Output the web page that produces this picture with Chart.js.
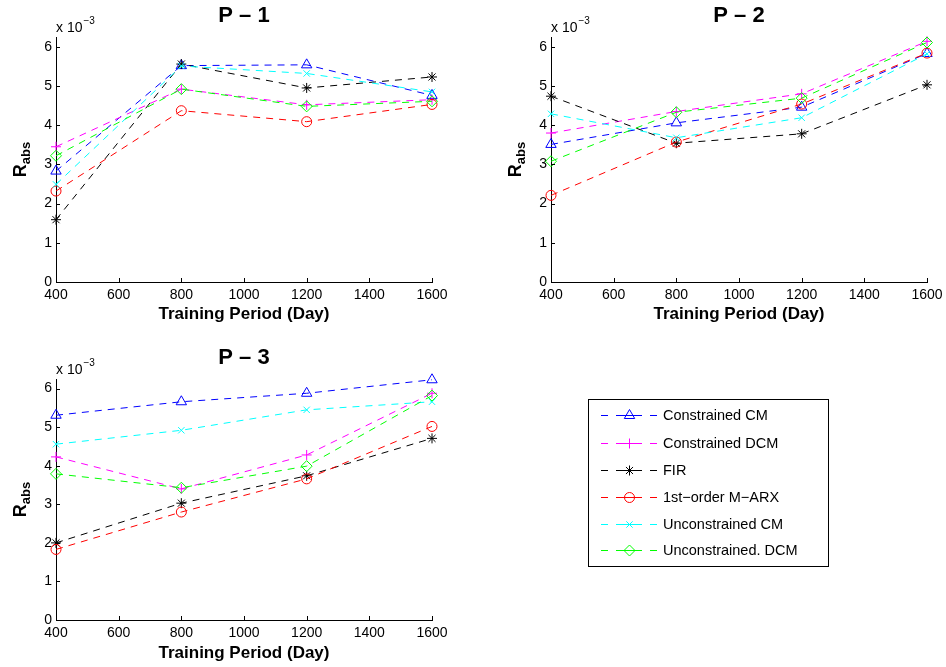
<!DOCTYPE html>
<html><head><meta charset="utf-8">
<script src="https://cdn.jsdelivr.net/npm/chart.js@4"></script>
<style>
html,body{margin:0;padding:0;background:#fff;}
body{width:946px;height:667px;position:relative;overflow:hidden;font-family:"Liberation Sans",Arial,sans-serif;}
canvas.plot{position:absolute;}
#legend{position:absolute;left:588px;top:399px;width:241px;height:168px;box-sizing:border-box;border:1px solid #000;background:#fff;}
#legend canvas{position:absolute;left:0;top:0;}
#legend .item{position:absolute;left:74px;font-size:14.5px;line-height:18px;color:#000;white-space:nowrap;}
</style></head>
<body>
<canvas id="c1" class="plot" width="470" height="330" style="left:0;top:0"></canvas>
<canvas id="c2" class="plot" width="466" height="330" style="left:480px;top:0"></canvas>
<canvas id="c3" class="plot" width="470" height="337" style="left:0;top:330px"></canvas>
<div id="legend"><canvas id="lg" width="239" height="166"></canvas></div>
<script>
// ---- data (R_abs values in units of 10^-3) ----
const trainingDays = [400, 800, 1200, 1600];
const xTicks = [400, 600, 800, 1000, 1200, 1400, 1600];
const yTicks = [0, 1, 2, 3, 4, 5, 6];
const seriesNames = ['Constrained CM', 'Constrained DCM', 'FIR', '1st\u2212order M\u2212ARX', 'Unconstrained CM', 'Unconstrained. DCM'];
const panelTitles = ['P \u2013 1', 'P \u2013 2', 'P \u2013 3'];

// P-1
const p1ConstrainedCM   = [2.83, 5.52, 5.54, 4.76];
const p1ConstrainedDCM  = [3.45, 4.92, 4.52, 4.65];
const p1FIR             = [1.59, 5.56, 4.95, 5.23];
const p1MARX            = [2.32, 4.37, 4.09, 4.53];
const p1UnconstrainedCM = [2.49, 5.51, 5.32, 4.85];
const p1UnconstrainedDCM= [3.22, 4.92, 4.48, 4.61];
// P-2
const p2ConstrainedCM   = [3.51, 4.06, 4.46, 5.83];
const p2ConstrainedDCM  = [3.80, 4.35, 4.80, 6.14];
const p2FIR             = [4.74, 3.54, 3.78, 5.03];
const p2MARX            = [2.21, 3.57, 4.54, 5.84];
const p2UnconstrainedCM = [4.29, 3.68, 4.19, 5.82];
const p2UnconstrainedDCM= [3.08, 4.33, 4.69, 6.11];
// P-3
const p3ConstrainedCM   = [5.31, 5.66, 5.88, 6.23];
const p3ConstrainedDCM  = [4.23, 3.40, 4.28, 5.88];
const p3FIR             = [2.00, 3.03, 3.74, 4.71];
const p3MARX            = [1.83, 2.80, 3.66, 5.02];
const p3UnconstrainedCM = [4.56, 4.92, 5.45, 5.66];
const p3UnconstrainedDCM= [3.79, 3.43, 3.99, 5.82];

// ---- styles ----
const seriesColors = ['#0000ff', '#ff00ff', '#000000', '#ff0000', '#00ffff', '#00ff00'];
const seriesMarkers = ['triangle', 'cross', 'star', 'circle', 'crossRot', 'rectRot'];
const markerRadius = [6, 5, 5, 5, 4.5, 5.5];
const FONT = '"Liberation Sans", Arial, Helvetica, sans-serif';

Chart.defaults.font.family = FONT;
Chart.defaults.color = '#000';

const decor = {
  id: 'decor',
  afterDraw(chart, args, opts) {
    const {ctx, chartArea: a, scales: {x, y}} = chart;
    ctx.save();
    // inward tick marks
    ctx.strokeStyle = '#000'; ctx.lineWidth = 1;
    ctx.beginPath();
    x.ticks.forEach(t => { const px = Math.round(x.getPixelForValue(t.value)) + 0.5; ctx.moveTo(px, a.bottom); ctx.lineTo(px, a.bottom - 4); });
    y.ticks.forEach(t => { const py = Math.round(y.getPixelForValue(t.value)) + 0.5; ctx.moveTo(a.left, py); ctx.lineTo(a.left + 4, py); });
    ctx.stroke();
    ctx.fillStyle = '#000';
    // title
    ctx.font = 'bold 22px ' + FONT;
    ctx.textAlign = 'center'; ctx.textBaseline = 'middle';
    ctx.fillText(opts.title, (a.left + a.right) / 2, a.top - 21);
    // exponent
    ctx.textAlign = 'left'; ctx.textBaseline = 'alphabetic';
    ctx.font = '14px ' + FONT;
    const base = 'x 10';
    ctx.fillText(base, a.left, a.top - 5);
    const bw = ctx.measureText(base).width;
    ctx.font = '10px ' + FONT;
    ctx.fillText('\u22123', a.left + bw + 1, a.top - 13);
    // R_abs label
    const cx = a.left - 37, cy = (a.top + a.bottom) / 2;
    ctx.translate(cx, cy);
    ctx.rotate(-Math.PI / 2);
    ctx.font = 'bold 18px ' + FONT;
    const rw = ctx.measureText('R').width;
    ctx.font = 'bold 13px ' + FONT;
    const sw = ctx.measureText('abs').width;
    const start = -(rw + sw) / 2;
    ctx.font = 'bold 18px ' + FONT;
    ctx.fillText('R', start, 6.5);
    ctx.font = 'bold 13px ' + FONT;
    ctx.fillText('abs', start + rw, 11);
    ctx.restore();
  }
};

function makeDatasets(seriesList) {
  return seriesList.map((vals, i) => ({
    label: seriesNames[i],
    data: trainingDays.map((d, k) => ({x: d, y: vals[k]})),
    borderColor: seriesColors[i],
    borderWidth: 1,
    borderDash: [7, 6],
    pointStyle: seriesMarkers[i],
    pointRadius: markerRadius[i],
    pointBorderColor: seriesColors[i],
    pointBackgroundColor: 'rgba(0,0,0,0)',
    pointBorderWidth: 1,
    fill: false,
    tension: 0,
    clip: false,
    order: 5 - i
  }));
}

function makeChart(id, seriesList, title, cfg) {
  return new Chart(document.getElementById(id), {
    type: 'line',
    data: {datasets: makeDatasets(seriesList)},
    plugins: [decor],
    options: {
      responsive: false,
      animation: false,
      events: [],
      layout: {padding: {top: cfg.top, right: cfg.right, left: 0, bottom: 0}},
      plugins: {legend: {display: false}, tooltip: {enabled: false}, decor: {title: title}},
      scales: {
        x: {
          type: 'linear', min: 400, max: 1600,
          afterBuildTicks: s => { s.ticks = xTicks.map(v => ({value: v})); },
          ticks: {font: {size: 14}, padding: 5, maxRotation: 0, autoSkip: false, color: '#000', callback: v => String(v)},
          grid: {display: false, drawTicks: false},
          border: {display: true, color: '#000', width: 1},
          title: {display: true, text: 'Training Period (Day)', font: {size: 17, weight: 'bold'}, padding: {top: 0, bottom: cfg.titlePad}, color: '#000'},
          afterFit: s => { s.height = cfg.xh; s.paddingLeft = 0; s.paddingRight = 0; }
        },
        y: {
          type: 'linear', min: 0, max: 6.25,
          afterBuildTicks: s => { s.ticks = yTicks.map(v => ({value: v})); },
          ticks: {font: {size: 14}, padding: 4, color: '#000', callback: v => String(v)},
          grid: {display: false, drawTicks: false},
          border: {display: true, color: '#000', width: 1},
          afterFit: s => { s.width = cfg.yw; s.paddingTop = 0; s.paddingBottom = 0; }
        }
      }
    }
  });
}

makeChart('c1', [p1ConstrainedCM, p1ConstrainedDCM, p1FIR, p1MARX, p1UnconstrainedCM, p1UnconstrainedDCM], panelTitles[0],
  {top: 37, right: 38, yw: 56, xh: 48, titlePad: 5});
makeChart('c2', [p2ConstrainedCM, p2ConstrainedDCM, p2FIR, p2MARX, p2UnconstrainedCM, p2UnconstrainedDCM], panelTitles[1],
  {top: 37, right: 19, yw: 71, xh: 48, titlePad: 5});
makeChart('c3', [p3ConstrainedCM, p3ConstrainedDCM, p3FIR, p3MARX, p3UnconstrainedCM, p3UnconstrainedDCM], panelTitles[2],
  {top: 49, right: 38, yw: 56, xh: 47, titlePad: 3});

// ---- legend (sample line + marker per series) ----
function drawMarker(ctx, style, x, y, r, color) {
  ctx.save();
  ctx.strokeStyle = color;
  ctx.lineWidth = 1;
  ctx.setLineDash([]);
  ctx.beginPath();
  if (style === 'triangle') {
    for (let k = 0; k < 3; k++) {
      const ang = -Math.PI / 2 + k * 2 * Math.PI / 3;
      const px = x + r * Math.cos(ang), py = y + r * Math.sin(ang);
      k === 0 ? ctx.moveTo(px, py) : ctx.lineTo(px, py);
    }
    ctx.closePath();
  } else if (style === 'circle') {
    ctx.arc(x, y, r, 0, Math.PI * 2);
  } else if (style === 'cross') {
    ctx.moveTo(x - r, y); ctx.lineTo(x + r, y); ctx.moveTo(x, y - r); ctx.lineTo(x, y + r);
  } else if (style === 'crossRot') {
    const d = r * Math.SQRT1_2;
    ctx.moveTo(x - d, y - d); ctx.lineTo(x + d, y + d); ctx.moveTo(x - d, y + d); ctx.lineTo(x + d, y - d);
  } else if (style === 'star') {
    const d = r * Math.SQRT1_2;
    ctx.moveTo(x - r, y); ctx.lineTo(x + r, y); ctx.moveTo(x, y - r); ctx.lineTo(x, y + r);
    ctx.moveTo(x - d, y - d); ctx.lineTo(x + d, y + d); ctx.moveTo(x - d, y + d); ctx.lineTo(x + d, y - d);
  } else if (style === 'rectRot') {
    ctx.moveTo(x, y - r); ctx.lineTo(x + r, y); ctx.lineTo(x, y + r); ctx.lineTo(x - r, y); ctx.closePath();
  }
  ctx.stroke();
  ctx.restore();
}

(function () {
  const lg = document.getElementById('lg');
  const ctx = lg.getContext('2d');
  const legend = document.getElementById('legend');
  const rowY = [15, 43, 70, 97, 124, 150];
  seriesNames.forEach((name, i) => {
    const y = rowY[i] + 0.5;
    ctx.save();
    ctx.strokeStyle = seriesColors[i];
    ctx.lineWidth = 1;
    ctx.beginPath();
    ctx.moveTo(12, y); ctx.lineTo(19, y);
    ctx.moveTo(27, y); ctx.lineTo(53, y);
    ctx.moveTo(61, y); ctx.lineTo(68, y);
    ctx.stroke();
    ctx.restore();
    drawMarker(ctx, seriesMarkers[i], 40.5, y, markerRadius[i], seriesColors[i]);
    const d = document.createElement('div');
    d.className = 'item';
    d.style.top = (rowY[i] - 9) + 'px';
    d.textContent = name;
    legend.appendChild(d);
  });
})();
</script>
</body></html>
